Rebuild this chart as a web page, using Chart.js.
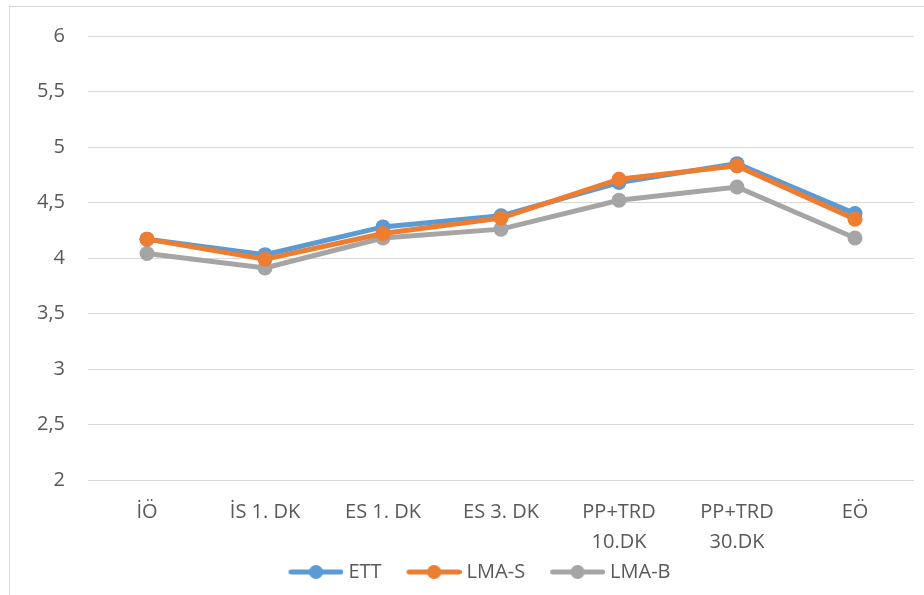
<!DOCTYPE html>
<html>
<head>
<meta charset="utf-8">
<script src="https://cdn.jsdelivr.net/npm/chart.js@4"></script>
<style>
  html, body { margin: 0; padding: 0; background: #fff; overflow: hidden; }
  #wrap { position: relative; width: 924px; height: 595px; }
  #frame { position: absolute; left: 9px; top: 6px; width: 1000px; height: 700px; border: 1px solid #d9d9d9; box-sizing: border-box; }
  canvas { position: absolute; left: 0; top: 0; }
</style>
</head>
<body>
<div id="wrap">
  <div id="frame"></div>
  <canvas id="c" width="924" height="595"></canvas>
</div>
<script>
const categories = ["İÖ", "İS 1. DK", "ES 1. DK", "ES 3. DK", ["PP+TRD", "10.DK"], ["PP+TRD", "30.DK"], "EÖ"];
const seriesNames = ["ETT", "LMA-S", "LMA-B"];
const ettValues  = [4.17, 4.03, 4.28, 4.38, 4.68, 4.85, 4.40];
const lmaSValues = [4.17, 3.99, 4.22, 4.36, 4.71, 4.83, 4.35];
const lmaBValues = [4.04, 3.91, 4.18, 4.26, 4.52, 4.64, 4.18];
const yTickValues = [2, 2.5, 3, 3.5, 4, 4.5, 5, 5.5, 6];
const yTickLabels = ["2", "2,5", "3", "3,5", "4", "4,5", "5", "5,5", "6"];
const colors = ["#5B9BD5", "#ED7D31", "#A5A5A5"];

const FONT = "'Open Sans', sans-serif";
const textColor = "#595959";
const LEG_BOX = 69;

function legendIcon(color) {
  const cv = document.createElement('canvas');
  cv.width = LEG_BOX + 10; cv.height = 16;
  const g = cv.getContext('2d');
  const x1 = cv.width - 55 + 2.5, x2 = cv.width - 2.5;
  g.strokeStyle = color; g.lineWidth = 5; g.lineCap = 'round';
  g.beginPath(); g.moveTo(x1, 8); g.lineTo(x2, 8); g.stroke();
  g.fillStyle = color;
  g.beginPath(); g.arc((x1 + x2) / 2, 8, 7, 0, Math.PI * 2); g.fill();
  return cv;
}

const allValues = [ettValues, lmaSValues, lmaBValues];
const drawOrder = [1, 0, 2];
const datasets = seriesNames.map((name, i) => ({
  label: name,
  data: allValues[i],
  borderColor: colors[i],
  backgroundColor: colors[i],
  borderWidth: 5,
  pointRadius: 7.5,
  pointHoverRadius: 7.5,
  pointBorderWidth: 0,
  pointStyle: 'circle',
  tension: 0,
  order: drawOrder[i],
  legendIcon: legendIcon(colors[i])
}));

const PAD_LEFT = 26;

new Chart(document.getElementById('c'), {
  type: 'line',
  data: { labels: categories, datasets: datasets },
  options: {
    responsive: false,
    animation: false,
    devicePixelRatio: 1,
    layout: { padding: { top: 36, right: 10, left: PAD_LEFT, bottom: 3 } },
    plugins: {
      tooltip: { enabled: false },
      legend: {
        position: 'bottom',
        labels: {
          font: { family: FONT, size: 20 },
          color: textColor,
          usePointStyle: true,
          pointStyleWidth: LEG_BOX,
          boxHeight: 16,
          padding: 6,
          generateLabels: (chart) => chart.data.datasets.map((ds, i) => ({
            text: ds.label,
            fillStyle: ds.backgroundColor,
            strokeStyle: ds.borderColor,
            lineWidth: 0,
            pointStyle: ds.legendIcon,
            fontColor: textColor,
            hidden: false,
            datasetIndex: i
          }))
        }
      }
    },
    scales: {
      x: {
        offset: true,
        afterFit: (scale) => { scale.height = 76; },
        grid: { display: false, drawTicks: false },
        border: { display: false },
        ticks: {
          font: { family: FONT, size: 20, lineHeight: 1.5 },
          color: textColor,
          padding: 17,
          maxRotation: 0,
          autoSkip: false
        }
      },
      y: {
        min: 2,
        max: 6,
        afterFit: (scale) => { scale.width = 88 - PAD_LEFT; },
        afterBuildTicks: (scale) => { scale.ticks = yTickValues.map(v => ({ value: v })); },
        grid: { color: '#d9d9d9', lineWidth: 1, drawTicks: false },
        border: { display: false },
        ticks: {
          font: { family: FONT, size: 20 },
          color: textColor,
          padding: 23,
          callback: (value) => {
            const idx = yTickValues.indexOf(value);
            return idx >= 0 ? yTickLabels[idx] : '';
          }
        }
      }
    }
  }
});
</script>
</body>
</html>
